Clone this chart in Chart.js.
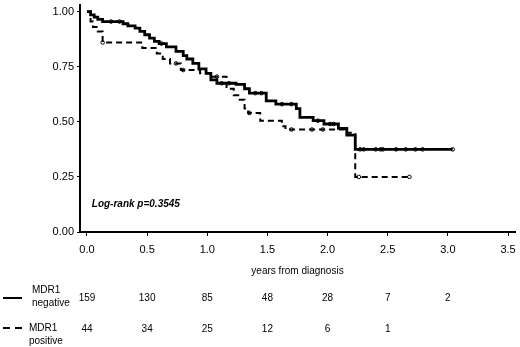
<!DOCTYPE html>
<html>
<head>
<meta charset="utf-8">
<script src="https://cdn.jsdelivr.net/npm/chart.js@4.4.0/dist/chart.umd.min.js"></script>
<style>
  html, body { margin: 0; padding: 0; background: #fff; }
</style>
</head>
<body>
<canvas id="km" width="520" height="347"></canvas>
<script>
// Kaplan-Meier estimates (years, survival)
const negTime = [0, 0.03, 0.06, 0.09, 0.13, 0.30, 0.34, 0.40, 0.44, 0.48, 0.52, 0.56, 0.60, 0.66, 0.74, 0.80, 0.83, 0.88, 0.93, 0.99, 1.03, 1.08, 1.24, 1.31, 1.35, 1.49, 1.57, 1.74, 1.77, 1.88, 1.97, 2.09, 2.16, 2.23, 3.04];
const negSurv = [1.0, 0.985, 0.975, 0.965, 0.955, 0.945, 0.935, 0.925, 0.91, 0.895, 0.88, 0.865, 0.855, 0.84, 0.82, 0.80, 0.785, 0.765, 0.74, 0.72, 0.69, 0.675, 0.67, 0.65, 0.63, 0.595, 0.58, 0.56, 0.52, 0.505, 0.49, 0.47, 0.44, 0.375, 0.375];

const posTime = [0, 0.03, 0.05, 0.09, 0.13, 0.46, 0.58, 0.63, 0.69, 0.78, 0.94, 1.04, 1.16, 1.22, 1.27, 1.31, 1.34, 1.44, 1.62, 1.65, 2.14, 2.23, 2.68];
const posSurv = [1.0, 0.955, 0.93, 0.91, 0.86, 0.835, 0.81, 0.785, 0.765, 0.735, 0.72, 0.705, 0.65, 0.62, 0.60, 0.56, 0.54, 0.505, 0.48, 0.465, 0.45, 0.25, 0.25];

// censored observations
const negCensTime = [0.20, 0.27, 0.62, 1.12, 1.18, 1.40, 1.45, 1.62, 1.70, 1.92, 2.02, 2.05, 2.27, 2.30, 2.40, 2.44, 2.46, 2.57, 2.65, 2.73, 2.79, 3.04];
const negCensSurv = [0.955, 0.955, 0.855, 0.675, 0.675, 0.63, 0.63, 0.58, 0.58, 0.505, 0.49, 0.49, 0.375, 0.375, 0.375, 0.375, 0.375, 0.375, 0.375, 0.375, 0.375, 0.375];
const posCensTime = [0.13, 0.74, 0.80, 1.08, 1.35, 1.70, 1.87, 1.96, 2.26, 2.68];
const posCensSurv = [0.86, 0.765, 0.735, 0.705, 0.54, 0.465, 0.465, 0.465, 0.25, 0.25];

// numbers at risk
const riskTimes = [0, 0.5, 1.0, 1.5, 2.0, 2.5, 3.0];
const riskNeg = [159, 130, 85, 48, 28, 7, 2];
const riskPos = [44, 34, 25, 12, 6, 1];

const xTicks = [0, 0.5, 1.0, 1.5, 2.0, 2.5, 3.0, 3.5];
const yTicks = [0, 0.25, 0.5, 0.75, 1.0];
const pValueText = 'Log-rank p=0.3545';

const FONT = '"Liberation Sans", Arial, sans-serif';

function toPoints(xs, ys) {
    return xs.map((x, i) => ({ x: x, y: ys[i] }));
}

const riskTable = {
    id: 'riskTable',
    afterDraw: function(chart) {
        const ctx = chart.ctx;
        const xs = chart.scales.x;
        const ys = chart.scales.y;
        ctx.save();
        ctx.fillStyle = '#000';
        ctx.strokeStyle = '#000';

        // p-value annotation
        ctx.font = 'italic bold 10px ' + FONT;
        ctx.textAlign = 'left';
        ctx.textBaseline = 'middle';
        ctx.fillText(pValueText, xs.getPixelForValue(0.04), ys.getPixelForValue(0.125));

        // legend lines
        ctx.lineWidth = 2;
        ctx.beginPath();
        ctx.moveTo(3, 298);
        ctx.lineTo(22, 298);
        ctx.stroke();
        ctx.setLineDash([7, 5]);
        ctx.beginPath();
        ctx.moveTo(3, 328);
        ctx.lineTo(22, 328);
        ctx.stroke();
        ctx.setLineDash([]);

        ctx.font = '10px ' + FONT;
        ctx.fillText('MDR1', 32, 290);
        ctx.fillText('negative', 32, 303);
        ctx.fillText('MDR1', 29, 328);
        ctx.fillText('positive', 29, 341);

        ctx.textAlign = 'center';
        riskNeg.forEach((n, i) => ctx.fillText(String(n), xs.getPixelForValue(riskTimes[i]), 298));
        riskPos.forEach((n, i) => ctx.fillText(String(n), xs.getPixelForValue(riskTimes[i]), 329));
        ctx.restore();
    }
};

const ctx = document.getElementById('km').getContext('2d');
new Chart(ctx, {
    type: 'line',
    data: {
        datasets: [
            {
                label: 'MDR1 negative',
                data: toPoints(negTime, negSurv),
                stepped: true,
                borderColor: '#000',
                borderWidth: 2.8,
                pointRadius: 0,
                fill: false
            },
            {
                label: 'MDR1 positive',
                data: toPoints(posTime, posSurv),
                stepped: true,
                borderColor: '#000',
                borderWidth: 2,
                borderDash: [6, 4],
                pointRadius: 0,
                fill: false
            },
            {
                label: 'censored negative',
                data: toPoints(negCensTime, negCensSurv),
                showLine: false,
                pointRadius: 1.8,
                pointBackgroundColor: '#fff',
                pointBorderColor: '#000',
                pointBorderWidth: 1
            },
            {
                label: 'censored positive',
                data: toPoints(posCensTime, posCensSurv),
                showLine: false,
                pointRadius: 1.8,
                pointBackgroundColor: '#fff',
                pointBorderColor: '#000',
                pointBorderWidth: 1
            }
        ]
    },
    options: {
        responsive: false,
        animation: false,
        devicePixelRatio: 1,
        layout: { padding: { top: 0, right: 3, bottom: 66, left: 0 } },
        plugins: {
            legend: { display: false },
            tooltip: { enabled: false }
        },
        scales: {
            x: {
                type: 'linear',
                min: -0.058,
                max: 3.558,
                afterBuildTicks: function(scale) { scale.ticks = xTicks.map(v => ({ value: v })); },
                afterFit: function(scale) {
                    scale.height = 49;
                    scale.paddingLeft = 0;
                    scale.paddingRight = 0;
                },
                border: { color: '#000', width: 2 },
                grid: { drawOnChartArea: false, color: '#000', tickLength: 4, lineWidth: 1 },
                ticks: {
                    color: '#000',
                    padding: 7,
                    maxRotation: 0,
                    font: { family: FONT, size: 11 },
                    callback: v => Number(v).toFixed(1)
                },
                title: {
                    display: true,
                    text: 'years from diagnosis',
                    color: '#000',
                    font: { family: FONT, size: 10 },
                    padding: { top: 0, bottom: 4 }
                }
            },
            y: {
                min: 0,
                max: 1.03,
                afterBuildTicks: function(scale) { scale.ticks = yTicks.map(v => ({ value: v })); },
                afterFit: function(scale) {
                    scale.width = 80;
                    scale.paddingTop = 0;
                    scale.paddingBottom = 0;
                },
                border: { color: '#000', width: 2 },
                grid: { drawOnChartArea: false, color: '#000', tickLength: 3, lineWidth: 1 },
                ticks: {
                    color: '#000',
                    padding: 3,
                    font: { family: FONT, size: 11 },
                    callback: v => Number(v).toFixed(2)
                }
            }
        }
    },
    plugins: [riskTable]
});
</script>
</body>
</html>
